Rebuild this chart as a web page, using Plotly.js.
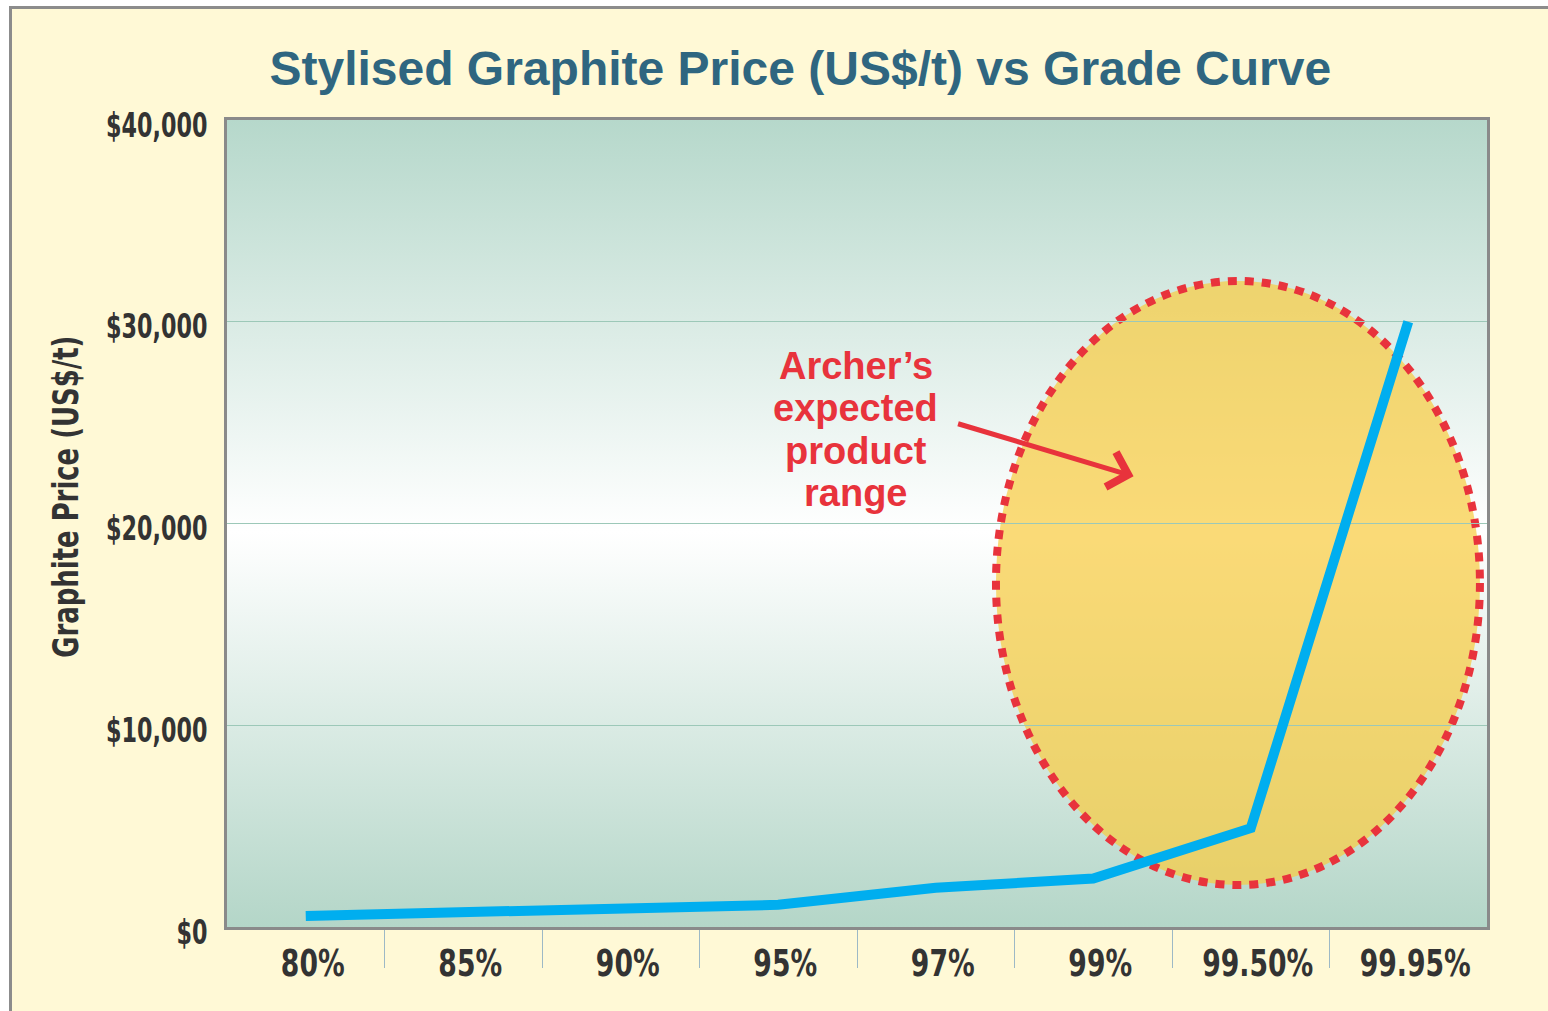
<!DOCTYPE html>
<html>
<head>
<meta charset="utf-8">
<script src="https://cdn.plot.ly/plotly-3.0.1.min.js"></script>
<style>
  html, body { margin: 0; padding: 0; background: #ffffff; width: 1548px; height: 1011px; overflow: hidden; }
  #chart { position: absolute; left: 9px; top: 6px; width: 1536px; height: 1002px;
           border-left: 3px solid #8c8c8c; border-top: 3px solid #8c8c8c; }
</style>
</head>
<body>
<div id="chart"></div>
<script>
// ---- data ----
const grades = ["80%", "85%", "90%", "95%", "97%", "99%", "99.50%", "99.95%"];
const prices = [550, 700, 900, 1100, 1950, 2400, 4900, 30000];
const yTickValues = [0, 10000, 20000, 30000, 40000];
const yTickLabels = ["$0", "$10,000", "$20,000", "$30,000", "$40,000"];
const yTitle = "Graphite Price (US$/t)";
const chartTitle = "Stylised Graphite Price (US$/t) vs Grade Curve";
const annotationLines = ["Archer\u2019s", "expected", "product", "range"];

// ---- styling ----
const narrow = '"Liberation Sans Narrow", "Arial Narrow", "DejaVu Sans Condensed", sans-serif';
const sans = '"Liberation Sans", Arial, Helvetica, sans-serif';
const red = '#E8333C';

const idx = grades.map((g, i) => i);
const bounds = grades.slice(0, -1).map((g, i) => i + 0.5);

const gradSvg = '<svg xmlns="http://www.w3.org/2000/svg" width="100" height="100" preserveAspectRatio="none">' +
  '<defs><linearGradient id="g" x1="0" y1="0" x2="0" y2="1">' +
  '<stop offset="0" stop-color="#B6D8CB"/>' +
  '<stop offset="0.51" stop-color="#FFFFFF"/>' +
  '<stop offset="1" stop-color="#B4D6C8"/>' +
  '</linearGradient></defs><rect width="100" height="100" fill="url(#g)"/></svg>';
const gradSrc = 'data:image/svg+xml;charset=utf-8,' + encodeURIComponent(gradSvg);

const trace = {
  type: 'scatter',
  mode: 'lines',
  x: idx,
  y: prices,
  line: { color: '#00AEEF', width: 10 },
  hoverinfo: 'skip',
  showlegend: false
};

const annotations = [{
  // y-axis title (index 0)
  xref: 'paper', yref: 'paper', x: -0.1286, y: 0.534,
  xanchor: 'center', yanchor: 'middle', showarrow: false, textangle: -90,
  text: yTitle, font: { family: narrow, size: 36, color: '#333333', weight: 'bold' }
}];
const lineYs = [0.695, 0.643, 0.590, 0.538];
annotationLines.forEach((t, i) => annotations.push({
  xref: 'paper', yref: 'paper', x: 0.4992, y: lineYs[i],
  xanchor: 'center', yanchor: 'middle', showarrow: false,
  text: t, font: { family: sans, size: 38, color: red, weight: 'bold' }
}));
annotations.push({
  xref: 'paper', yref: 'paper', x: 0.7195, y: 0.5585,
  text: '', showarrow: true, arrowhead: 4, arrowsize: 1.4, arrowwidth: 5,
  arrowcolor: red, ax: -177, ay: -53, axref: 'pixel', ayref: 'pixel', standoff: 0
});

const layout = {
  width: 1536, height: 1002,
  margin: { l: 215, r: 61, t: 111, b: 84 },
  paper_bgcolor: '#FFF9D6',
  plot_bgcolor: '#E6F0EA',
  showlegend: false,
  title: {
    text: chartTitle,
    font: { family: sans, size: 48, color: '#2F6680', weight: 'bold' },
    xref: 'paper', x: 0.455, xanchor: 'center',
    yref: 'container', y: 1 - 59 / 1002, yanchor: 'middle'
  },
  xaxis: {
    type: 'linear',
    range: [-0.5, grades.length - 0.5],
    tickmode: 'array', tickvals: idx, ticktext: grades,
    ticks: '', showgrid: false, zeroline: false,
    tickfont: { family: narrow, size: 38, color: '#333333', weight: 'bold' },
    ticklabelstandoff: 0,
    ticklabelshift: 7,
    minor: { tickmode: 'array', tickvals: bounds, ticks: 'outside', ticklen: 38,
             tickwidth: 1, tickcolor: '#9DB9C6', showgrid: false },
    showline: true, linecolor: '#8a8a8a', linewidth: 3, mirror: true,
    automargin: false, fixedrange: true
  },
  yaxis: {
    range: [0, 40000],
    tickmode: 'array', tickvals: yTickValues, ticktext: yTickLabels,
    ticks: '', showgrid: true, gridcolor: '#9CC8B8', gridwidth: 1, zeroline: false,
    tickfont: { family: narrow, size: 33, color: '#333333', weight: 'bold' },
    ticklabelstandoff: 10,
    ticklabelshift: 5,
    showline: true, linecolor: '#8a8a8a', linewidth: 3, mirror: true,
    automargin: false, fixedrange: true
  },
  images: [{
    source: gradSrc, xref: 'paper', yref: 'paper', x: 0, y: 1, sizex: 1, sizey: 1,
    xanchor: 'left', yanchor: 'top', sizing: 'stretch', layer: 'below'
  }],
  shapes: [{
    type: 'circle', xref: 'paper', yref: 'paper',
    x0: 0.6103, x1: 0.9944, y0: 0.052, y1: 0.8005,
    fillcolor: 'rgba(248,204,67,0.72)',
    line: { color: red, width: 8, dash: '9px,8px' },
    layer: 'between'
  }],
  annotations: annotations
};

// Narrow the condensed-font labels so they match the reference's compressed type.
function condense(selector, factor) {
  document.querySelectorAll(selector).forEach(t => {
    const w = t.getComputedTextLength();
    if (w > 0) {
      t.setAttribute('textLength', (w * factor).toFixed(1));
      t.setAttribute('lengthAdjust', 'spacingAndGlyphs');
    }
  });
}

Plotly.newPlot('chart', [trace], layout, { displayModeBar: false, staticPlot: true }).then(() => {
  condense('#chart .xtick text', 0.78);
  condense('#chart .ytick text', 0.75);
  condense('#chart .annotation[data-index="0"] text', 0.8);
});
</script>
</body>
</html>
